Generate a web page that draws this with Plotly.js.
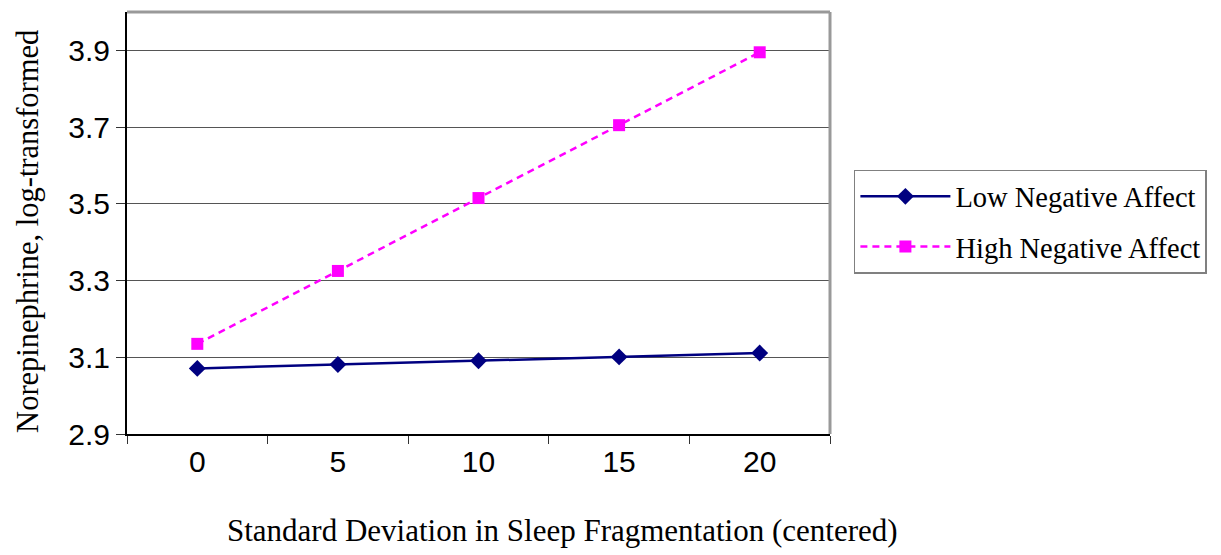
<!DOCTYPE html>
<html>
<head>
<meta charset="utf-8">
<script src="https://cdn.plot.ly/plotly-3.0.1.min.js"></script>
<style>html,body{margin:0;padding:0;background:#fff;}#chart{width:1221px;height:555px;}</style>
</head>
<body>
<div id="chart"></div>
<script>
const categories = ["0", "5", "10", "15", "20"];
const lowNegativeAffect = [3.071, 3.081, 3.091, 3.101, 3.111];
const highNegativeAffect = [3.135, 3.325, 3.515, 3.705, 3.895];
const yTickValues = [2.9, 3.1, 3.3, 3.5, 3.7, 3.9];
const yTickLabels = ["2.9", "3.1", "3.3", "3.5", "3.7", "3.9"];
const xTitle = "Standard Deviation in Sleep Fragmentation (centered)";
const yTitle = "Norepinephrine, log-transformed";

const serif = "Liberation Serif, Times New Roman, serif";
const sans = "Liberation Sans, Arial, sans-serif";

const traces = [
  {
    x: categories, y: lowNegativeAffect, name: "Low Negative Affect",
    type: "scatter", mode: "lines+markers", legendgroup: "a",
    line: {color: "#000080", width: 2.5},
    marker: {symbol: "diamond", size: 13, color: "#000080"}
  },
  {
    x: categories, y: highNegativeAffect, name: "High Negative Affect",
    type: "scatter", mode: "lines+markers", legendgroup: "b",
    line: {color: "#FF00FF", width: 2.5, dash: "7px,5px"},
    marker: {symbol: "square", size: 12, color: "#FF00FF"}
  }
];

const layout = {
  width: 1221, height: 555,
  margin: {l: 127, r: 391, t: 12, b: 121},
  paper_bgcolor: "#fff", plot_bgcolor: "#fff",
  showlegend: true,
  legend: {
    x: 1.034, y: 0.626, xanchor: "left", yanchor: "top",
    bordercolor: "#808080", borderwidth: 1.5,
    font: {family: serif, size: 28.5, color: "#000"},
    traceorder: "grouped", tracegroupgap: 10, itemwidth: 90
  },
  xaxis: {
    type: "category", range: [-0.5, 4.5],
    tickson: "boundaries", ticks: "outside", ticklen: 8, tickcolor: "#333",
    showgrid: false, zeroline: false,
    showline: true, linecolor: "#000", linewidth: 2,
    tickfont: {family: sans, size: 30, color: "#000"},
    fixedrange: true
  },
  yaxis: {
    range: [2.9, 4.0], tickvals: yTickValues, ticktext: yTickLabels,
    ticks: "outside", ticklen: 9, tickcolor: "#333",
    showgrid: true, gridcolor: "#555", gridwidth: 1, zeroline: false,
    showline: true, linecolor: "#000", linewidth: 2,
    tickfont: {family: sans, size: 30, color: "#000"},
    fixedrange: true
  },
  annotations: [
    {text: xTitle, xref: "paper", yref: "paper", x: 0.619, y: -0.228,
     xanchor: "center", yanchor: "middle", showarrow: false,
     font: {family: serif, size: 31, color: "#000"}},
    {text: yTitle, xref: "paper", yref: "paper", x: -0.141, y: 0.481, textangle: -90,
     xanchor: "center", yanchor: "middle", showarrow: false,
     font: {family: serif, size: 30.5, color: "#000"}}
  ],
  shapes: [
    {type: "line", xref: "paper", yref: "paper", x0: 0, x1: 1, y0: 1, y1: 1, line: {color: "#999", width: 3}},
    {type: "line", xref: "paper", yref: "paper", x0: 1, x1: 1, y0: 0, y1: 1, line: {color: "#999", width: 3}}
  ]
};

Plotly.newPlot("chart", traces, layout, {displayModeBar: false, staticPlot: true});
</script>
</body>
</html>
